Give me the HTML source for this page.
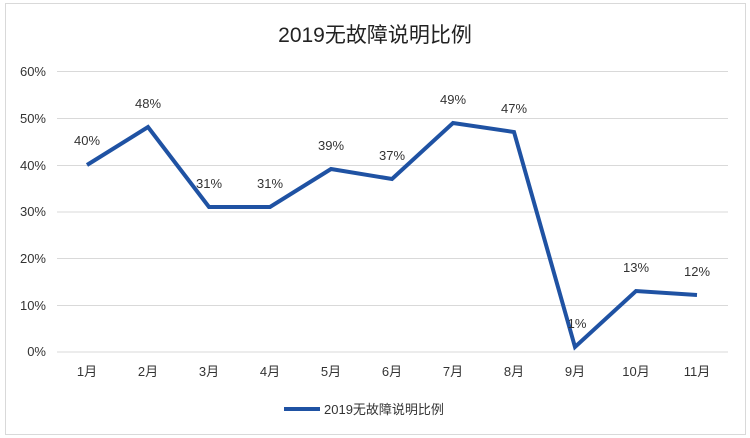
<!DOCTYPE html>
<html><head><meta charset="utf-8"><style>
body{margin:0;background:#fff}
svg{display:block;font-family:"Liberation Sans","Noto Sans CJK SC",sans-serif}
</style></head><body>
<svg width="750" height="438" viewBox="0 0 750 438">
<rect x="5.5" y="3.5" width="740" height="431" fill="#fff" stroke="#d9d9d9"/>
<text x="375" y="42" font-size="21" text-anchor="middle" fill="#222">2019无故障说明比例</text>
<g stroke="#d9d9d9" stroke-width="1">
<line x1="57" x2="728" y1="71.5" y2="71.5"/>
<line x1="57" x2="728" y1="118.5" y2="118.5"/>
<line x1="57" x2="728" y1="165.5" y2="165.5"/>
<line x1="57" x2="728" y1="212" y2="212"/>
<line x1="57" x2="728" y1="258.5" y2="258.5"/>
<line x1="57" x2="728" y1="305.5" y2="305.5"/>
<line x1="57" x2="728" y1="352" y2="352"/>
</g>
<g font-size="13" fill="#333" text-anchor="end">
<text x="46" y="76">60%</text><text x="46" y="123">50%</text><text x="46" y="170">40%</text>
<text x="46" y="216">30%</text><text x="46" y="263">20%</text><text x="46" y="310">10%</text><text x="46" y="356">0%</text>
</g>
<g font-size="13" fill="#333" text-anchor="middle">
<text x="87" y="376">1月</text><text x="148" y="376">2月</text><text x="209" y="376">3月</text>
<text x="270" y="376">4月</text><text x="331" y="376">5月</text><text x="392" y="376">6月</text>
<text x="453" y="376">7月</text><text x="514" y="376">8月</text><text x="575" y="376">9月</text>
<text x="636" y="376">10月</text><text x="697" y="376">11月</text>
</g>
<polyline fill="none" stroke="#1f52a3" stroke-width="4" stroke-linejoin="miter" points="87,165 148,127 209,207 270,207 331,169 392,179 453,123 514,132 575,347 636,291 697,295"/>
<g font-size="13" fill="#333" text-anchor="middle">
<text x="87" y="145">40%</text><text x="148" y="108">48%</text><text x="209" y="188">31%</text>
<text x="270" y="188">31%</text><text x="331" y="150">39%</text><text x="392" y="160">37%</text>
<text x="453" y="104">49%</text><text x="514" y="113">47%</text><text x="577" y="328">1%</text>
<text x="636" y="272">13%</text><text x="697" y="276">12%</text>
</g>
<line x1="284" x2="320" y1="409" y2="409" stroke="#1f52a3" stroke-width="4"/>
<text x="324" y="414" font-size="13" fill="#333">2019无故障说明比例</text>
</svg>
</body></html>
